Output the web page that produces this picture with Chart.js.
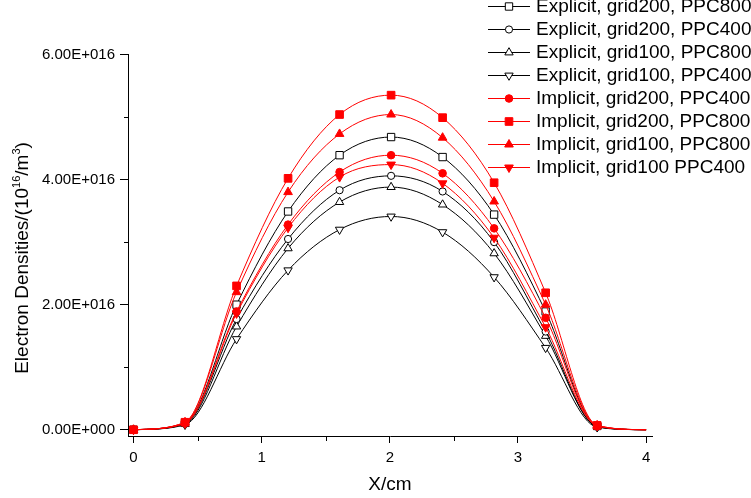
<!DOCTYPE html>
<html>
<head>
<meta charset="utf-8">
<script src="https://cdn.jsdelivr.net/npm/chart.js@4.4.0/dist/chart.umd.min.js"></script>
<style>
  html, body { margin: 0; padding: 0; background: #fff; }
</style>
</head>
<body>
<canvas id="chart" width="751" height="498"></canvas>
<script>
// x positions of the sampled points (cm)
const xValues = [0, 0.402, 0.804, 1.206, 1.608, 2.01, 2.412, 2.814, 3.216, 3.618, 4.0];

// electron densities, in units of 1E+016 m^-3
const expG200P800 = [0, 0.11, 2.00, 3.49, 4.39, 4.68, 4.36, 3.44, 1.89, 0.06, 0];
const expG200P400 = [0, 0.10, 1.77, 3.05, 3.83, 4.06, 3.81, 3.00, 1.57, 0.05, 0];
const expG100P800 = [0, 0.09, 1.65, 2.90, 3.64, 3.88, 3.60, 2.82, 1.50, 0.05, 0];
const expG100P400 = [0, 0.08, 1.45, 2.55, 3.20, 3.41, 3.16, 2.44, 1.31, 0.04, 0];
const impG200P400 = [0, 0.11, 1.89, 3.28, 4.12, 4.39, 4.10, 3.22, 1.79, 0.06, 0];
const impG200P800 = [0, 0.12, 2.30, 4.02, 5.04, 5.35, 4.99, 3.95, 2.19, 0.07, 0];
const impG100P800 = [0, 0.12, 2.20, 3.80, 4.73, 5.04, 4.67, 3.65, 2.00, 0.07, 0];
const impG100P400 = [0, 0.10, 1.86, 3.23, 4.04, 4.24, 3.94, 3.07, 1.64, 0.06, 0];

const seriesNames = [
  'Explicit, grid200, PPC800',
  'Explicit, grid200, PPC400',
  'Explicit, grid100, PPC800',
  'Explicit, grid100, PPC400',
  'Implicit, grid200, PPC400',
  'Implicit, grid200, PPC800',
  'Implicit, grid100, PPC800',
  'Implicit, grid100 PPC400'
];
const seriesData = [expG200P800, expG200P400, expG100P800, expG100P400,
                    impG200P400, impG200P800, impG100P800, impG100P400];

const xTickValues = [0, 1, 2, 3, 4];
const xTickLabels = ['0', '1', '2', '3', '4'];
const xMinorTicks = [0.5, 1.5, 2.5, 3.5];
const yTickValues = [0, 2, 4, 6];
const yTickLabels = ['0.00E+000', '2.00E+016', '4.00E+016', '6.00E+016'];
const yMinorTicks = [1, 3, 5];

const FONT = '"Liberation Sans", Arial, Helvetica, sans-serif';

// marker style for each series
const styles = [
  { shape: 'rect', rot: 0, r: 5.2, red: false },
  { shape: 'circle', rot: 0, r: 3.6, red: false },
  { shape: 'triangle', rot: 0, r: 4.8, red: false },
  { shape: 'triangle', rot: 180, r: 4.8, red: false },
  { shape: 'circle', rot: 0, r: 3.8, red: true },
  { shape: 'rect', rot: 0, r: 5.4, red: true },
  { shape: 'triangle', rot: 0, r: 5.0, red: true },
  { shape: 'triangle', rot: 180, r: 5.0, red: true }
];

const datasets = seriesData.map((vals, i) => {
  const s = styles[i];
  const col = s.red ? '#ff0000' : '#000000';
  return {
    label: seriesNames[i],
    data: vals.map((v, j) => ({ x: xValues[j], y: v })),
    borderColor: col,
    borderWidth: 1,
    pointStyle: s.shape,
    pointRotation: s.rot,
    pointRadius: vals.map((v, j) => (j < 10 ? s.r : 0)),
    pointBackgroundColor: s.red ? '#ff0000' : '#ffffff',
    pointBorderColor: col,
    pointBorderWidth: 1,
    cubicInterpolationMode: 'monotone',
    order: s.red ? 0 : 1
  };
});

function marker(ctx, s, x, y) {
  const col = s.red ? '#ff0000' : '#000000';
  ctx.save();
  ctx.fillStyle = s.red ? '#ff0000' : '#ffffff';
  ctx.strokeStyle = col;
  ctx.lineWidth = 1;
  ctx.beginPath();
  if (s.shape === 'circle') {
    ctx.arc(x, y, s.r, 0, Math.PI * 2);
  } else if (s.shape === 'rect') {
    const h = s.r * Math.SQRT1_2;
    ctx.rect(x - h, y - h, 2 * h, 2 * h);
  } else {
    let a = s.rot * Math.PI / 180;
    ctx.moveTo(x + Math.sin(a) * s.r, y - Math.cos(a) * s.r);
    a += 2 * Math.PI / 3;
    ctx.lineTo(x + Math.sin(a) * s.r, y - Math.cos(a) * s.r);
    a += 2 * Math.PI / 3;
    ctx.lineTo(x + Math.sin(a) * s.r, y - Math.cos(a) * s.r);
    ctx.closePath();
  }
  ctx.fill();
  ctx.stroke();
  ctx.restore();
}

const extras = {
  id: 'extras',
  afterDraw(chart) {
    const ctx = chart.ctx;
    const xs = chart.scales.x, ys = chart.scales.y;
    const area = chart.chartArea;
    ctx.save();
    ctx.strokeStyle = '#000';
    ctx.lineWidth = 1;
    // minor ticks
    ctx.beginPath();
    yMinorTicks.forEach(v => {
      const py = Math.round(ys.getPixelForValue(v)) + 0.5;
      ctx.moveTo(area.left - 4, py);
      ctx.lineTo(area.left, py);
    });
    xMinorTicks.forEach(v => {
      const px = Math.round(xs.getPixelForValue(v)) + 0.5;
      ctx.moveTo(px, area.bottom);
      ctx.lineTo(px, area.bottom + 5);
    });
    ctx.stroke();

    // x title
    ctx.fillStyle = '#000';
    ctx.font = '19px ' + FONT;
    ctx.textAlign = 'center';
    ctx.textBaseline = 'middle';
    ctx.fillText('X/cm', 390, 485);

    // y title with superscripts
    const parts = [
      ['Electron Densities/(10', 19, 0],
      ['16', 11, -6],
      ['/m', 19, 0],
      ['3', 11, -6],
      [')', 19, 0]
    ];
    let total = 0;
    parts.forEach(p => { ctx.font = p[1] + 'px ' + FONT; total += ctx.measureText(p[0]).width; });
    ctx.translate(23, 258);
    ctx.rotate(-Math.PI / 2);
    ctx.textAlign = 'left';
    let cx = -total / 2;
    parts.forEach(p => {
      ctx.font = p[1] + 'px ' + FONT;
      ctx.fillText(p[0], cx, p[2]);
      cx += ctx.measureText(p[0]).width;
    });
    ctx.setTransform(1, 0, 0, 1, 0, 0);

    // legend
    ctx.font = '19px ' + FONT;
    ctx.textAlign = 'left';
    ctx.textBaseline = 'middle';
    seriesNames.forEach((name, i) => {
      const y = 5.5 + i * 23.1;
      const s = styles[i];
      ctx.strokeStyle = s.red ? '#ff0000' : '#000000';
      ctx.beginPath();
      ctx.moveTo(488, Math.round(y) + 0.5);
      ctx.lineTo(530, Math.round(y) + 0.5);
      ctx.stroke();
      marker(ctx, s, 509, Math.round(y) + 0.5);
      ctx.fillStyle = '#000';
      ctx.fillText(name, 536, y + 1);
    });
    ctx.restore();
  }
};

new Chart(document.getElementById('chart').getContext('2d'), {
  type: 'line',
  data: { datasets: datasets },
  options: {
    responsive: false,
    animation: false,
    devicePixelRatio: 1,
    layout: { padding: { left: 0, top: 54.5, right: 99, bottom: 0 } },
    plugins: { legend: { display: false }, tooltip: { enabled: false } },
    scales: {
      x: {
        type: 'linear',
        min: -0.043,
        max: 4.046,
        afterFit: s => { s.height = 62; },
        afterBuildTicks: s => { s.ticks = xTickValues.map(v => ({ value: v })); },
        grid: { display: true, drawOnChartArea: false, drawTicks: true, tickLength: 7, color: '#000' },
        border: { display: true, color: '#000', width: 1 },
        ticks: {
          color: '#000',
          font: { family: FONT, size: 15 },
          padding: 6,
          maxRotation: 0,
          callback: (v) => xTickLabels[xTickValues.indexOf(v)]
        }
      },
      y: {
        type: 'linear',
        min: -0.1,
        max: 6,
        afterFit: s => { s.width = 128; },
        afterBuildTicks: s => { s.ticks = yTickValues.map(v => ({ value: v })); },
        grid: { display: true, drawOnChartArea: false, drawTicks: true, tickLength: 8, color: '#000' },
        border: { display: true, color: '#000', width: 1 },
        ticks: {
          color: '#000',
          font: { family: FONT, size: 15 },
          padding: 5,
          callback: (v) => yTickLabels[yTickValues.indexOf(v)]
        }
      }
    }
  },
  plugins: [extras]
});
</script>
</body>
</html>
